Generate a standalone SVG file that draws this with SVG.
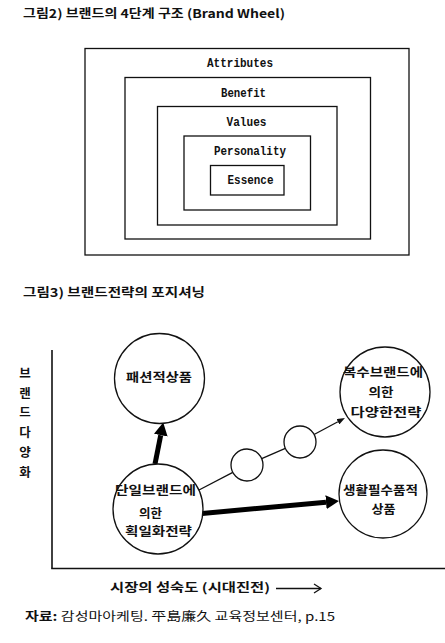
<svg xmlns="http://www.w3.org/2000/svg" width="445" height="643" viewBox="0 0 445 643">
<style>
.bg{fill:#fff}
.box{fill:none;stroke:#111;stroke-width:1.3}
.en{font-family:"Liberation Mono","DejaVu Sans Mono",monospace;font-weight:bold;font-size:13.5px;fill:#111;text-anchor:middle}
.ko{font-family:"Noto Sans CJK KR","Noto Sans",sans-serif;font-weight:bold;font-size:12px;fill:#111}
.kc{font-family:"Noto Sans CJK KR","Noto Sans",sans-serif;font-weight:bold;font-size:12.5px;fill:#111;text-anchor:middle}
.node{fill:#fff;stroke:#111;stroke-width:1.3}
.axis{stroke:#111;stroke-width:1.6;fill:none}
.thick{stroke:#000;stroke-width:5;fill:none}
.thin{stroke:#111;stroke-width:1.3;fill:none}
</style>
<defs>
<marker id="bigHead" markerUnits="userSpaceOnUse" viewBox="0 0 13 14" refX="0" refY="7" markerWidth="13" markerHeight="14" orient="auto">
<path d="M0,0 L13,7 L0,14 z" fill="#000"/>
</marker>
<marker id="smallHead" markerUnits="userSpaceOnUse" viewBox="0 0 8 6" refX="0" refY="3" markerWidth="8" markerHeight="6" orient="auto">
<path d="M0,0 L8,3 L0,6 z" fill="#111"/>
</marker>
</defs>
<rect class="bg" x="0" y="0" width="445" height="643"/>

<text class="ko" x="23" y="18" textLength="262" lengthAdjust="spacingAndGlyphs">그림2) 브랜드의 4단계 구조 (Brand Wheel)</text>

<g id="attributes"><rect class="box" x="85" y="48.5" width="324" height="206.5"/><text class="en" x="240" y="67" textLength="66" lengthAdjust="spacingAndGlyphs">Attributes</text></g>
<g id="benefit"><rect class="box" x="125" y="77.5" width="245.5" height="161.5"/><text class="en" x="243.5" y="96.5" textLength="45" lengthAdjust="spacingAndGlyphs">Benefit</text></g>
<g id="values"><rect class="box" x="157.5" y="106.5" width="179.5" height="118.5"/><text class="en" x="246.5" y="125.5" textLength="40" lengthAdjust="spacingAndGlyphs">Values</text></g>
<g id="personality"><rect class="box" x="184" y="136" width="126.5" height="74"/><text class="en" x="250" y="155" textLength="72" lengthAdjust="spacingAndGlyphs">Personality</text></g>
<g id="essence"><rect class="box" x="210.5" y="165.5" width="73.5" height="29.5"/><text class="en" x="250.5" y="184" textLength="46" lengthAdjust="spacingAndGlyphs">Essence</text></g>

<text class="ko" x="23" y="297" textLength="182" lengthAdjust="spacingAndGlyphs">그림3) 브랜드전략의 포지셔닝</text>

<g id="axes">
<line class="axis" x1="52" y1="350" x2="52" y2="568.5"/>
<line class="axis" x1="51.2" y1="568.5" x2="445" y2="568.5"/>
</g>
<g id="y-label">
<text class="kc" x="25" y="378">브</text>
<text class="kc" x="25" y="398">랜</text>
<text class="kc" x="25" y="417">드</text>
<text class="kc" x="25" y="437">다</text>
<text class="kc" x="25" y="457">양</text>
<text class="kc" x="25" y="477">화</text>
</g>

<g id="connectors">
<line class="thick" x1="155" y1="464" x2="160.7" y2="435.2" marker-end="url(#bigHead)"/>
<line class="thick" x1="202" y1="513.5" x2="326" y2="502.2" marker-end="url(#bigHead)"/>
<line class="thin" x1="199" y1="490" x2="232.8" y2="472.4"/>
<line class="thin" x1="261.7" y1="458.6" x2="285.3" y2="448.4"/>
<line class="thin" x1="314.1" y1="434.5" x2="337.9" y2="421.8" marker-end="url(#smallHead)"/>
</g>

<g id="fashion"><circle class="node" cx="159.5" cy="378.5" r="45"/><text class="kc" x="159" y="382" textLength="66" lengthAdjust="spacingAndGlyphs">패션적상품</text></g>
<g id="multi"><circle class="node" cx="385" cy="392" r="45"/>
<text class="kc" x="383" y="377" textLength="80" lengthAdjust="spacingAndGlyphs">복수브랜드에</text>
<text class="kc" x="381" y="397" textLength="25" lengthAdjust="spacingAndGlyphs">의한</text>
<text class="kc" x="386" y="417" textLength="71" lengthAdjust="spacingAndGlyphs">다양한전략</text></g>
<g id="step1"><circle class="node" cx="247" cy="465" r="16"/></g>
<g id="step2"><circle class="node" cx="300" cy="442" r="16"/></g>
<g id="single"><circle class="node" cx="158" cy="509" r="45"/>
<text class="kc" x="155.5" y="495" textLength="81" lengthAdjust="spacingAndGlyphs">단일브랜드에</text>
<text class="kc" x="150.5" y="518" textLength="23" lengthAdjust="spacingAndGlyphs">의한</text>
<text class="kc" x="158.5" y="536" textLength="67" lengthAdjust="spacingAndGlyphs">획일화전략</text></g>
<g id="necessity"><circle class="node" cx="383" cy="494" r="44"/>
<text class="kc" x="380.5" y="495" textLength="75" lengthAdjust="spacingAndGlyphs">생활필수품적</text>
<text class="kc" x="383.5" y="514" textLength="24" lengthAdjust="spacingAndGlyphs">상품</text></g>

<g id="x-label">
<text class="ko" x="110" y="592" font-weight="normal" textLength="160" lengthAdjust="spacingAndGlyphs">시장의 성숙도 (시대진전)</text>
<line class="thin" x1="276" y1="588.5" x2="321" y2="588.5"/>
<polyline class="thin" points="314,584 321,588.5 314,593"/>
</g>

<text class="ko" x="25" y="621" textLength="310" lengthAdjust="spacingAndGlyphs"><tspan>자료:</tspan><tspan font-weight="normal"> 감성마아케팅. 平島廉久 교육정보센터, p.15</tspan></text>
</svg>
